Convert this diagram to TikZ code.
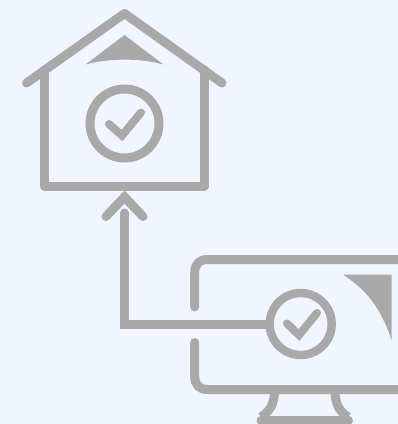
\documentclass[tikz,border=0pt]{standalone}
\definecolor{bgc}{HTML}{F0F5FF}
\definecolor{ink}{HTML}{A9A9A9}
\tikzset{
  stroke/.style={draw=ink,line width=9pt,line cap=round,line join=round},
  thinstroke/.style={draw=ink,line width=8pt,line cap=round,line join=miter},
  ring/.style={circle,draw=ink,line width=9pt,inner sep=0pt,fill=bgc},
  solid shape/.style={fill=ink,draw=none}
}
\begin{document}
\begin{tikzpicture}[x=1pt,y=-1pt]
\useasboundingbox (0,0) rectangle (398,424);
\fill[bgc] (0,0) rectangle (398,424);
\begin{scope}
\clip (0,0) rectangle (398,424);
% house
\draw[stroke] (26.5,83) -- (124.5,13.5) -- (222,83);
\draw[stroke] (44.5,70) -- (44.5,186) -- (204.5,186) -- (204.5,70);
\fill[solid shape] (85.5,64.5) -- (124.5,35) -- (163.5,64.5) .. controls (140,58) and (109,58) .. cycle;
\node[ring,minimum size=69pt] (hc) at (124.5,123.5) {};
\draw[thinstroke] (109,124) -- (122,135.5) -- (141,112.5);
% monitor
\draw[stroke] (194.7,307) -- (194.7,273) .. controls (194.7,264) and (199,259.5) .. (208,259.5) -- (410,259.5);
\draw[stroke] (194.7,342.5) -- (194.7,376) .. controls (194.7,385) and (199,389.5) .. (208,389.5) -- (410,389.5);
\fill[solid shape] (343,274.5) -- (391.5,274.5) -- (391.5,340) .. controls (380,306) and (366,290) .. cycle;
\draw[stroke,line cap=butt] (274.5,390) .. controls (274.5,404) and (270,411) .. (261,417);
\draw[stroke,line cap=butt] (335,390) .. controls (335,404) and (339,411) .. (348,417);
\draw[stroke] (261,420) -- (348.5,420);
% connector
\node[ring,minimum size=62pt,line width=8.4pt] (mc) at (300.7,324) {};
\draw[thinstroke] (287,323.5) -- (299,335) -- (317,313);
\coordinate (tipc) at (124.5,197);
\draw[stroke,line join=miter] (mc.west) -- (124.5,324) -- (124.5,213);
\draw[stroke,line join=miter] (106,216.5) -- (tipc) -- (143,216.5);
\end{scope}
\end{tikzpicture}
\end{document}
